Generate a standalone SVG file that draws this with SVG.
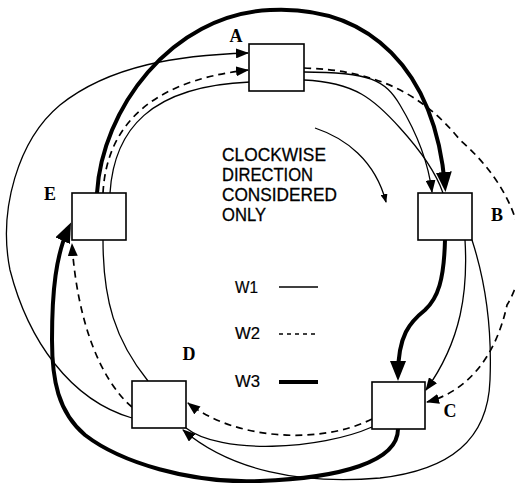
<svg xmlns="http://www.w3.org/2000/svg" width="515" height="483" viewBox="0 0 515 483">
<style>
.node rect{fill:#fff;stroke:#000;stroke-width:1.6}
.lbl{font-family:"Liberation Serif","Times New Roman",serif;font-weight:bold;font-size:18px;text-anchor:middle;fill:#000}
.txt{font-family:"Liberation Sans",Arial,sans-serif;font-size:18.5px;fill:#000;stroke:#000;stroke-width:0.3}
.leg{font-family:"Liberation Sans",Arial,sans-serif;font-size:16px;fill:#000;stroke:#000;stroke-width:0.2}
.w1{fill:none;stroke:#000;stroke-width:1.3}
.w2{fill:none;stroke:#000;stroke-width:1.7;stroke-dasharray:7 5}
.w3{fill:none;stroke:#000;stroke-width:4}
</style>
<defs>
<marker id="ah" markerUnits="userSpaceOnUse" viewBox="0 0 13 10" markerWidth="13" markerHeight="10" refX="12" refY="5" orient="auto"><path d="M0,0 L13,5 L0,10 z" fill="#000"/></marker>
<marker id="ahT" markerUnits="userSpaceOnUse" viewBox="0 0 20 16" markerWidth="20" markerHeight="16" refX="14" refY="8" orient="auto"><path d="M0,0 L20,8 L0,16 z" fill="#000"/></marker>
<marker id="ahS" markerUnits="userSpaceOnUse" viewBox="0 0 9 7" markerWidth="9" markerHeight="7" refX="8" refY="3.5" orient="auto"><path d="M0,0 L9,3.5 L0,7 z" fill="#000"/></marker>
</defs>
<g id="connectors">
<path class="w3" d="M97,193 C102,110 170,15 270,10 C370,5 435,70 445,186" marker-end="url(#ahT)"/>
<path class="w3" d="M445,240 C444,280 438,298 425,310 C410,322 398,335 398,375" marker-end="url(#ahT)"/>
<path class="w3" d="M398,429 C398,462 340,478 260,481 C190,484 120,462 85,435 C58,412 52,380 52,340 C52,290 56,255 68.5,228" marker-end="url(#ahT)"/>
<path class="w2" d="M103,193 C106,135 140,82 248,70" marker-end="url(#ah)"/>
<path class="w2" d="M304,68 C370,70 420,90 460,140 C512,185 540,250 507,305 C495,360 465,392 427,402" marker-end="url(#ah)"/>
<path class="w2" d="M372,419 C320,445 235,440 188,403" marker-end="url(#ah)"/>
<path class="w2" d="M132,407 C100,380 77,320 72,244" marker-end="url(#ah)"/>
<path class="w1" d="M110,193 C114,130 150,86 250,82"/>
<path class="w1" d="M132,418 C70,400 28,340 10,270 C-2,210 18,140 60,105 C110,65 180,55 248,53" marker-end="url(#ah)"/>
<path class="w1" d="M304,72 C370,72 385,80 400,105 C415,130 428,160 432,192" marker-end="url(#ah)"/>
<path class="w1" d="M304,80 C355,82 375,100 400,128 C420,150 435,170 443,193"/>
<path class="w1" d="M465,240 C468,290 462,340 426,390" marker-end="url(#ah)"/>
<path class="w1" d="M472,240 C485,280 492,330 490,380 C488,440 450,470 380,478 C300,485 230,470 183,430" marker-end="url(#ah)"/>
<path class="w1" d="M372,427 C320,450 220,455 186,428"/>
<path class="w1" d="M103,240 C103,300 115,340 148,381"/>
<path class="w1" d="M315,128 C345,138 375,160 386,202" marker-end="url(#ahS)"/>
</g>
<g id="A" class="node"><rect x="249" y="44" width="55" height="47"/><text class="lbl" x="236" y="42">A</text></g>
<g id="B" class="node"><rect x="418" y="193" width="54" height="47"/><text class="lbl" x="497" y="221">B</text></g>
<g id="C" class="node"><rect x="372" y="382" width="53" height="47"/><text class="lbl" x="450" y="417">C</text></g>
<g id="D" class="node"><rect x="132" y="381" width="54" height="47"/><text class="lbl" x="189" y="360">D</text></g>
<g id="E" class="node"><rect x="72" y="193" width="54" height="47"/><text class="lbl" x="50" y="200">E</text></g>
<g id="note">
<text class="txt" x="222" y="161" textLength="104" lengthAdjust="spacingAndGlyphs">CLOCKWISE</text>
<text class="txt" x="222" y="181" textLength="91" lengthAdjust="spacingAndGlyphs">DIRECTION</text>
<text class="txt" x="222" y="201" textLength="115" lengthAdjust="spacingAndGlyphs">CONSIDERED</text>
<text class="txt" x="222" y="221" textLength="44" lengthAdjust="spacingAndGlyphs">ONLY</text>
</g>
<g id="legend">
<text class="leg" x="235" y="293" textLength="23" lengthAdjust="spacingAndGlyphs">W1</text>
<text class="leg" x="235" y="339" textLength="25" lengthAdjust="spacingAndGlyphs">W2</text>
<text class="leg" x="235" y="387" textLength="25" lengthAdjust="spacingAndGlyphs">W3</text>
<line class="w1" x1="279" y1="287" x2="318" y2="287"/>
<line x1="279" y1="334" x2="318" y2="334" stroke="#000" stroke-width="1.3" stroke-dasharray="4 4"/>
<line class="w3" x1="279" y1="382" x2="318" y2="382"/>
</g>
</svg>
